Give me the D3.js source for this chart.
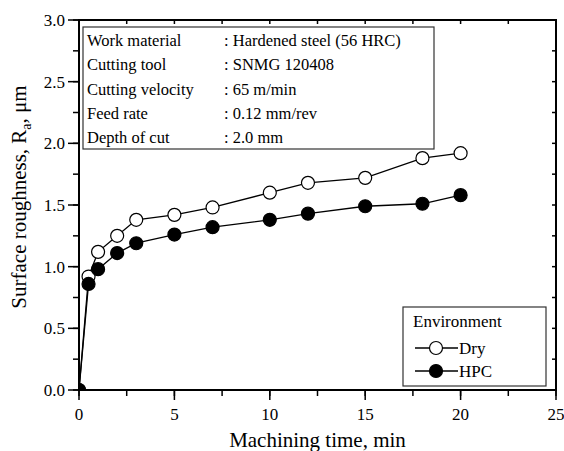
<!DOCTYPE html>
<html>
<head>
<meta charset="utf-8">
<script src="https://cdn.jsdelivr.net/npm/d3@7"></script>
</head>
<body style="margin:0;background:#fff">
<script>
// machining time (min) and Ra (um)
var times = [0, 0.5, 1, 2, 3, 5, 7, 10, 12, 15, 18, 20];
var dryRa = [0, 0.92, 1.12, 1.25, 1.38, 1.42, 1.48, 1.60, 1.68, 1.72, 1.88, 1.92];
var hpcRa = [0, 0.86, 0.98, 1.11, 1.19, 1.26, 1.32, 1.38, 1.43, 1.49, 1.51, 1.58];
var seriesNames = ["Dry", "HPC"];
var xTicks = [0, 5, 10, 15, 20, 25];
var yTicks = [0, 0.5, 1.0, 1.5, 2.0, 2.5, 3.0];
var infoLabels = ["Work material", "Cutting tool", "Cutting velocity", "Feed rate", "Depth of cut"];
var infoValues = [": Hardened steel (56 HRC)", ": SNMG 120408", ": 65 m/min", ": 0.12 mm/rev", ": 2.0 mm"];

var FONT = "Liberation Serif";
var W = 564, H = 451;
var margin = { top: 20, right: 8, bottom: 61, left: 79 };
var width = W - margin.left - margin.right;
var height = H - margin.top - margin.bottom;

// every text goes through here so the serif face is set on the element itself
function txt(sel, size) {
    return sel.append("text")
        .attr("font-family", FONT)
        .attr("font-size", size)
        .style("font-family", "'" + FONT + "'")
        .style("font-size", size + "px")
        .attr("fill", "#000");
}

var svg = d3.select("body").append("svg")
    .attr("width", W)
    .attr("height", H)
    .attr("font-family", FONT)
    .style("display", "block");

var g = svg.append("g")
    .attr("transform", "translate(" + margin.left + "," + margin.top + ")");

var x = d3.scaleLinear().domain([0, 25]).range([0, width]);
var y = d3.scaleLinear().domain([0, 3]).range([height, 0]);

g.append("clipPath").attr("id", "plotclip")
    .append("rect").attr("width", width).attr("height", height);

var xMinor = d3.range(0, 25.01, 2.5);
var yMinor = d3.range(0, 3.001, 0.25);

function tickLines(sel, vals, pos, x1, y1, x2, y2) {
    sel.selectAll(null).data(vals).enter().append("line")
        .attr("x1", function (d) { return pos === "x" ? x(d) : x1; })
        .attr("x2", function (d) { return pos === "x" ? x(d) : x2; })
        .attr("y1", function (d) { return pos === "x" ? y1 : y(d); })
        .attr("y2", function (d) { return pos === "x" ? y2 : y(d); })
        .attr("stroke", "#000").attr("stroke-width", 1.5);
}

var ticksG = g.append("g");
// bottom: outward
tickLines(ticksG, xMinor, "x", 0, height, 0, height + 6);
tickLines(ticksG, xTicks, "x", 0, height, 0, height + 10);
// left: outward
tickLines(ticksG, yMinor, "y", -6, 0, 0, 0);
tickLines(ticksG, yTicks, "y", -11, 0, 0, 0);
// top and right: inward, small
tickLines(ticksG, xMinor, "x", 0, 0, 0, 4);
tickLines(ticksG, yMinor, "y", width - 4, 0, width, 0);

// frame
g.append("rect")
    .attr("width", width).attr("height", height)
    .attr("fill", "none").attr("stroke", "#000").attr("stroke-width", 2);

// tick labels placed with the scales
var xFmt = d3.format("d"), yFmt = d3.format(".1f");
xTicks.forEach(function (t) {
    txt(g, 17).attr("x", x(t)).attr("y", height + 30)
        .attr("text-anchor", "middle").text(xFmt(t));
});
yTicks.forEach(function (t) {
    txt(g, 17).attr("x", -14).attr("y", y(t) + 6)
        .attr("text-anchor", "end").text(yFmt(t));
});

// axis titles
txt(svg, 21).attr("x", margin.left + width / 2).attr("y", 447)
    .attr("text-anchor", "middle")
    .text("Machining time, min");

var yt = txt(svg, 21)
    .attr("transform", "translate(26," + 197 + ") rotate(-90)")
    .attr("text-anchor", "middle");
yt.append("tspan").text("Surface roughness, R");
yt.append("tspan").attr("dy", 5).attr("font-size", 14).style("font-size", "14px").text("a");
yt.append("tspan").attr("dy", -5).text(", \u03bcm");

// series
var line = d3.line()
    .x(function (d) { return x(d[0]); })
    .y(function (d) { return y(d[1]); });

var series = [dryRa, hpcRa].map(function (vals, i) {
    return { name: seriesNames[i], fill: i === 0 ? "#fff" : "#000",
             pts: times.map(function (t, j) { return [t, vals[j]]; }) };
});

var dataG = g.append("g").attr("clip-path", "url(#plotclip)");
series.forEach(function (s) {
    dataG.append("path").datum(s.pts)
        .attr("d", line).attr("fill", "none")
        .attr("stroke", "#000").attr("stroke-width", 1.3);
});
series.forEach(function (s) {
    dataG.selectAll(null).data(s.pts).enter().append("circle")
        .attr("cx", function (d) { return x(d[0]); })
        .attr("cy", function (d) { return y(d[1]); })
        .attr("r", 6.5)
        .attr("fill", s.fill).attr("stroke", "#000").attr("stroke-width", 1.2);
});

// info box
var info = svg.append("g");
info.append("rect")
    .attr("x", 83).attr("y", 27).attr("width", 351).attr("height", 122)
    .attr("fill", "#fff").attr("stroke", "#333").attr("stroke-width", 1.2);
infoLabels.forEach(function (lab, i) {
    txt(info, 16.5).attr("x", 87).attr("y", 46 + i * 24.3).text(lab);
    txt(info, 16.5).attr("x", 224).attr("y", 46 + i * 24.3).text(infoValues[i]);
});

// legend
var leg = svg.append("g");
leg.append("rect")
    .attr("x", 403).attr("y", 307).attr("width", 143).attr("height", 79)
    .attr("fill", "#fff").attr("stroke", "#333").attr("stroke-width", 1.2);
txt(leg, 17).attr("x", 413).attr("y", 327).text("Environment");
series.forEach(function (s, i) {
    var cy = 348 + i * 23;
    leg.append("line").attr("x1", 415).attr("x2", 458)
        .attr("y1", cy).attr("y2", cy).attr("stroke", "#000").attr("stroke-width", 1.3);
    leg.append("circle").attr("cx", 436).attr("cy", cy).attr("r", 6.5)
        .attr("fill", s.fill).attr("stroke", "#000").attr("stroke-width", 1.2);
    txt(leg, 17).attr("x", 459).attr("y", cy + 6).text(s.name);
});
</script>
</body>
</html>
